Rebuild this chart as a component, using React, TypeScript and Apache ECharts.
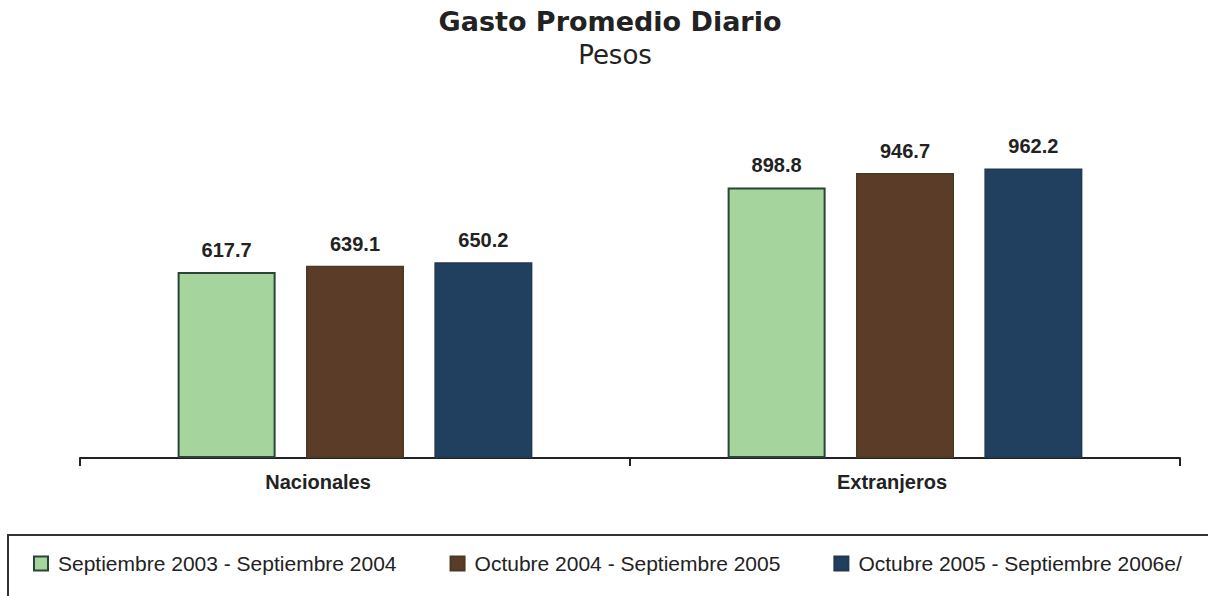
import React, { useEffect, useRef } from "react";
import * as echarts from "echarts";

const categories = ["Nacionales", "Extranjeros"];
const seriesNames = [
  "Septiembre 2003 - Septiembre 2004",
  "Octubre 2004 - Septiembre 2005",
  "Octubre 2005 - Septiembre 2006e/",
];
const serie2003 = [617.7, 898.8];
const serie2004 = [639.1, 946.7];
const serie2005 = [650.2, 962.2];

const colors = ["#a6d49d", "#5b3c29", "#213f5f"];
const borders = ["#2a4538", "#4a3a22", "#22384f"];

export default function App() {
  const ref = useRef<HTMLDivElement>(null);
  useEffect(() => {
    if (!ref.current) return;
    const chart = echarts.init(ref.current, undefined, { renderer: "svg" });
    const values = [serie2003, serie2004, serie2005];
    const labelFont = "'Liberation Sans', Arial, sans-serif";
    chart.setOption({
      animation: false,
      backgroundColor: "#ffffff",
      title: [
        {
          text: "Gasto Promedio Diario",
          left: 605,
          top: 3,
          textAlign: "center",
          textStyle: {
            fontFamily: "'DejaVu Sans', Verdana, sans-serif",
            fontWeight: "bold",
            fontSize: 27,
            color: "#222",
          },
        },
        {
          text: "Pesos",
          left: 610,
          top: 37,
          textAlign: "center",
          textStyle: {
            fontFamily: "'DejaVu Sans', Verdana, sans-serif",
            fontWeight: "normal",
            fontSize: 26,
            color: "#222",
          },
        },
      ],
      legend: {
        left: 33,
        top: 553,
        padding: 0,
        itemWidth: 14,
        itemHeight: 14,
        itemGap: 53,
        icon: "rect",
        data: seriesNames,
        textStyle: {
          fontFamily: labelFont,
          fontSize: 21,
          color: "#222",
          padding: [0, 0, 0, 5],
        },
      },
      grid: { left: 80, right: 28, top: 157, bottom: 138 },
      xAxis: {
        type: "category",
        data: categories,
        axisLine: { lineStyle: { color: "#222", width: 2 } },
        axisTick: { show: true, length: 8, lineStyle: { color: "#222", width: 2 } },
        axisLabel: {
          margin: 14,
          formatter: (v: string) => (v === "Nacionales" ? "{a|" + v + "}" : "{b|" + v + "}"),
          rich: {
            a: {
              fontFamily: labelFont,
              fontWeight: "bold",
              fontSize: 20,
              color: "#222",
              padding: [0, 74, 0, 0],
            },
            b: {
              fontFamily: labelFont,
              fontWeight: "bold",
              fontSize: 20,
              color: "#222",
              padding: [0, 26, 0, 0],
            },
          },
        },
      },
      yAxis: { type: "value", min: 0, max: 1000, show: false, splitLine: { show: false } },
      series: values.map((d, i) => ({
        name: seriesNames[i],
        type: "bar",
        data: d,
        barWidth: 98,
        barGap: "31%",
        itemStyle: { color: colors[i], borderColor: borders[i], borderWidth: i === 0 ? 2 : 1.5 },
        label: {
          show: true,
          position: "top",
          distance: 12,
          fontFamily: labelFont,
          fontWeight: "bold",
          fontSize: 20,
          color: "#222",
          formatter: (p: any) => p.value.toFixed(1),
        },
      })),
      graphic: [
        {
          type: "rect",
          shape: { x: 8, y: 535, width: 1300, height: 100 },
          style: { fill: "none", stroke: "#333", lineWidth: 2 },
          silent: true,
        },
      ],
    });
    return () => chart.dispose();
  }, []);
  return (
    <div
      ref={ref}
      style={{ position: "absolute", left: 0, top: 0, width: 1208, height: 596 }}
    />
  );
}
